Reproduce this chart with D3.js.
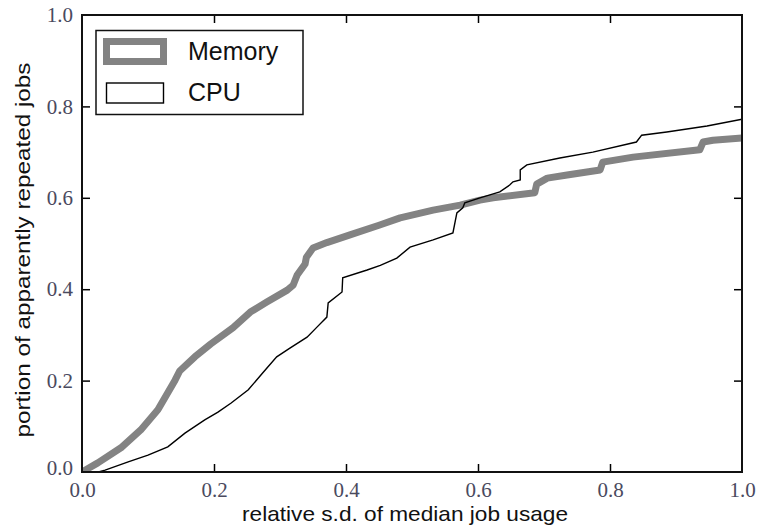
<!DOCTYPE html>
<html>
<head>
<meta charset="utf-8">
<script src="https://cdn.jsdelivr.net/npm/d3@7"></script>
<style>
  html, body { margin: 0; padding: 0; background: #fff; }
  svg { display: block; }
</style>
</head>
<body>
<svg id="chart" width="759" height="526"></svg>
<script>
// ---- data ----
const xTicks = [0.0, 0.2, 0.4, 0.6, 0.8, 1.0];
const yTicks = [0.0, 0.2, 0.4, 0.6, 0.8, 1.0];
const xLabel = "relative s.d. of median job usage";
const yLabel = "portion of apparently repeated jobs";
const seriesNames = ["Memory", "CPU"];

const memoryX = [0, 0.024, 0.059, 0.089, 0.115, 0.141, 0.148, 0.171, 0.195, 0.229, 0.255, 0.280, 0.311, 0.320, 0.326, 0.338, 0.340, 0.350, 0.371, 0.406, 0.450, 0.482, 0.532, 0.573, 0.603, 0.623, 0.686, 0.689, 0.705, 0.735, 0.785, 0.789, 0.835, 0.936, 0.941, 0.956, 1.0];
const memoryY = [0, 0.020, 0.053, 0.092, 0.136, 0.201, 0.221, 0.252, 0.280, 0.316, 0.350, 0.372, 0.398, 0.409, 0.431, 0.455, 0.470, 0.490, 0.502, 0.519, 0.540, 0.556, 0.573, 0.584, 0.595, 0.600, 0.611, 0.630, 0.643, 0.650, 0.661, 0.678, 0.689, 0.705, 0.722, 0.726, 0.731];

const cpuX = [0, 0.025, 0.035, 0.070, 0.100, 0.130, 0.156, 0.186, 0.206, 0.226, 0.252, 0.274, 0.295, 0.315, 0.341, 0.356, 0.371, 0.373, 0.394, 0.395, 0.432, 0.452, 0.477, 0.497, 0.532, 0.562, 0.568, 0.577, 0.580, 0.603, 0.633, 0.648, 0.653, 0.664, 0.664, 0.674, 0.724, 0.774, 0.840, 0.848, 0.886, 0.947, 1.0];
const cpuY = [0, 0.0, 0.004, 0.022, 0.037, 0.055, 0.085, 0.114, 0.131, 0.151, 0.180, 0.217, 0.252, 0.271, 0.295, 0.317, 0.339, 0.370, 0.394, 0.425, 0.442, 0.452, 0.468, 0.492, 0.508, 0.523, 0.567, 0.578, 0.589, 0.600, 0.613, 0.628, 0.635, 0.639, 0.661, 0.672, 0.687, 0.700, 0.722, 0.737, 0.744, 0.757, 0.772];

// ---- layout ----
const svg = d3.select("#chart");
const L = 82, R = 742, T = 15, B = 472;
const x = d3.scaleLinear().domain([0, 1]).range([L, R]);
const y = d3.scaleLinear().domain([0, 1]).range([B, T]);
const fmt = d3.format(".1f");

const memory = memoryX.map((v, i) => [v, memoryY[i]]);
const cpu = cpuX.map((v, i) => [v, cpuY[i]]);

const line = d3.line().x(d => x(d[0])).y(d => y(d[1]));

// clip
svg.append("clipPath").attr("id", "clip")
  .append("rect").attr("x", L).attr("y", T).attr("width", R - L).attr("height", B - T);

const plot = svg.append("g").attr("clip-path", "url(#clip)");
plot.append("path").datum(memory)
  .attr("d", line).attr("fill", "none")
  .attr("stroke", "#838383").attr("stroke-width", 7)
  .attr("stroke-linejoin", "round");
plot.append("path").datum(cpu)
  .attr("d", line).attr("fill", "none")
  .attr("stroke", "#000").attr("stroke-width", 1.4);

// axes (ticks inside, on all four sides)
const tickStyle = g => {
  g.select(".domain").remove();
  g.selectAll(".tick line").attr("stroke", "#000").attr("stroke-width", 1.5);
};
const serifFont = "'Liberation Serif', 'DejaVu Serif', serif";

const xAxis = svg.append("g").attr("transform", `translate(0,${B})`)
  .call(d3.axisBottom(x).tickValues(xTicks).tickFormat(fmt).tickSizeInner(-8).tickSizeOuter(0).tickPadding(10))
  .call(tickStyle);
xAxis.selectAll(".tick text").attr("font-family", serifFont).attr("font-size", 21).attr("fill", "#4a4a5e");
xAxis.selectAll(".tick").filter(d => d === 0 || d === 1).select("line").remove();

const xTop = svg.append("g").attr("transform", `translate(0,${T})`)
  .call(d3.axisTop(x).tickValues(xTicks).tickFormat("").tickSizeInner(-8).tickSizeOuter(0))
  .call(tickStyle);
xTop.selectAll(".tick").filter(d => d === 0 || d === 1).select("line").remove();

const yAxis = svg.append("g").attr("transform", `translate(${L},0)`)
  .call(d3.axisLeft(y).tickValues(yTicks).tickFormat(fmt).tickSizeInner(-8).tickSizeOuter(0).tickPadding(9))
  .call(tickStyle);
yAxis.selectAll(".tick text").attr("font-family", serifFont).attr("font-size", 21).attr("fill", "#4a4a5e");
yAxis.selectAll(".tick").filter(d => d === 0 || d === 1).select("line").remove();
yAxis.selectAll(".tick").filter(d => d === 0).select("text").attr("dy", "0.1em");

const yRight = svg.append("g").attr("transform", `translate(${R},0)`)
  .call(d3.axisRight(y).tickValues(yTicks).tickFormat("").tickSizeInner(-8).tickSizeOuter(0))
  .call(tickStyle);
yRight.selectAll(".tick").filter(d => d === 0 || d === 1).select("line").remove();

// frame
svg.append("rect").attr("x", L).attr("y", T).attr("width", R - L).attr("height", B - T)
  .attr("fill", "none").attr("stroke", "#111").attr("stroke-width", 2);

// axis labels
const sansFont = "'Liberation Sans', Arial, Helvetica, sans-serif";
svg.append("text").text(xLabel)
  .attr("x", (L + R) / 2 - 7).attr("y", 521)
  .attr("text-anchor", "middle").attr("font-family", sansFont).attr("font-size", 21)
  .attr("textLength", 326).attr("lengthAdjust", "spacingAndGlyphs")
  .attr("fill", "#111");
svg.append("text").text(yLabel)
  .attr("transform", `translate(30,250) rotate(-90)`)
  .attr("text-anchor", "middle").attr("font-family", sansFont).attr("font-size", 21)
  .attr("textLength", 375).attr("lengthAdjust", "spacingAndGlyphs")
  .attr("fill", "#111");

// legend
const leg = svg.append("g");
leg.append("rect").attr("x", 96).attr("y", 30.5).attr("width", 207).attr("height", 84)
  .attr("fill", "#fff").attr("stroke", "#111").attr("stroke-width", 1.5);
const legStyles = [
  { stroke: "#838383", width: 7 },
  { stroke: "#000", width: 1.4 }
];
const legRows = [
  { y: 51.5, h: 20, text: 60 },
  { y: 93, h: 20, text: 101 }
];
seriesNames.forEach((name, i) => {
  const st = legStyles[i], r = legRows[i];
  leg.append("rect").attr("x", 106.5).attr("y", r.y - r.h / 2).attr("width", 57).attr("height", r.h)
    .attr("fill", "none").attr("stroke", st.stroke).attr("stroke-width", st.width);
  leg.append("text").text(name).attr("x", 188).attr("y", r.text)
    .attr("font-family", sansFont).attr("font-size", 25).attr("fill", "#111");
});
</script>
</body>
</html>
